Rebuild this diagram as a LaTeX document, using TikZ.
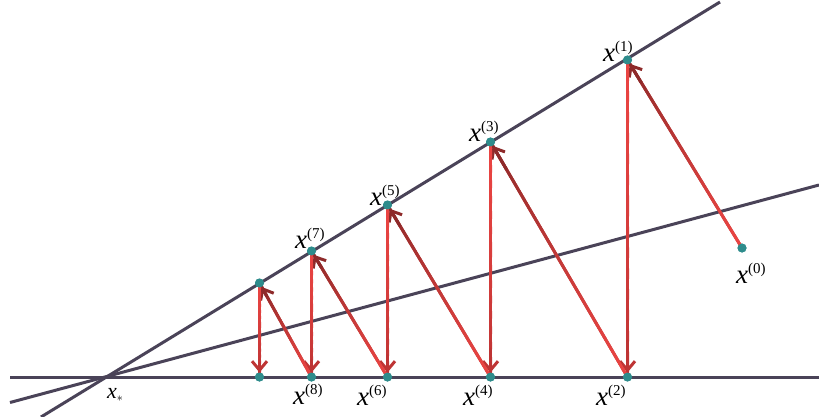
\documentclass[tikz,border=0pt]{standalone}
\usepackage{fontspec}
\setmainfont{Liberation Serif}
\usetikzlibrary{arrows.meta,calc}
\definecolor{linegray}{HTML}{4A4358}
\definecolor{dotteal}{HTML}{2E8C8C}
\definecolor{redA}{HTML}{EA4442}
\definecolor{redD}{HTML}{8E2A2A}
\definecolor{redM}{HTML}{BE3434}
\newcommand{\xlab}[1]{\fontsize{27}{29}\selectfont\itshape x\upshape\raisebox{10pt}{\fontsize{15}{17}\selectfont(#1)}}
\newcommand{\garrow}[3]{%
  \coordinate (gs) at (#1.center);
  \coordinate (ge) at ($(#2.center)!4.5pt!(#1.center)$);
  \draw[redline, color=#3!50!redA] (gs) -- (ge);
  \foreach \k in {0,...,29}{%
    \pgfmathsetmacro\pa{\k/30}%
    \pgfmathsetmacro\pb{(\k+1)/30}%
    \pgfmathsetmacro\pc{100*(\k/29)^1.3}%
    \draw[redline, color=#3!\pc!redA] ($(gs)!\pa!(ge)$) -- ($(gs)!\pb!(ge)$);
  }
  \draw[redline, color=#3, -{Straight Barb[length=9pt,width=15pt]}] ($(gs)!0.9!(ge)$) -- (ge);
}
\begin{document}
\begin{tikzpicture}[x=1pt,y=-1pt,
  gline/.style={line width=3pt, color=linegray},
  redline/.style={line width=3pt, line cap=round},
  dot/.style={circle, fill=dotteal, inner sep=0pt, minimum size=9pt},
  lab/.style={inner sep=0pt, anchor=base west}]
\useasboundingbox (0,0) rectangle (819,417);
% base lines
\coordinate (hl) at (10,377);
\coordinate (hr) at (819,377);
\coordinate (ul) at (41,417);
\coordinate (ur) at (720,2);
\coordinate (ml) at (10,402.5);
\coordinate (mr) at (819,185);
\draw[gline] (hl) -- (hr);
\draw[gline] (ul) -- (ur);
\draw[gline] (ml) -- (mr);
% points
\node[dot] (p0) at (742,248) {};
\node[dot] (p1) at (627.5,60) {};
\node[dot] (p2) at (627.5,377) {};
\node[dot] (p3) at (490.5,142) {};
\node[dot] (p4) at (490.5,377) {};
\node[dot] (p5) at (387.5,205) {};
\node[dot] (p6) at (387.5,377) {};
\node[dot] (p7) at (311.5,251) {};
\node[dot] (p8) at (311.5,377) {};
\node[dot] (p9) at (259.5,283) {};
\node[dot] (p10) at (259.5,377) {};
% arrows
\garrow{p0}{p1}{redD}
\garrow{p1}{p2}{redM}
\garrow{p2}{p3}{redD}
\garrow{p3}{p4}{redM}
\garrow{p4}{p5}{redD}
\garrow{p5}{p6}{redM}
\garrow{p6}{p7}{redD}
\garrow{p7}{p8}{redM}
\garrow{p8}{p9}{redD}
\garrow{p9}{p10}{redM}
% redraw dots on top
\foreach \p in {p0,p1,p2,p3,p4,p5,p6,p7,p8,p9,p10}{\fill[dotteal] (\p) circle (4.5pt);}
% labels
\node[lab] (l0) at (736,283) {\xlab{0}};
\node[lab] (l1) at (603,62) {\xlab{1}};
\node[lab] (l2) at (596,405) {\xlab{2}};
\node[lab] (l3) at (469,142) {\xlab{3}};
\node[lab] (l4) at (463,405) {\xlab{4}};
\node[lab] (l5) at (370,205) {\xlab{5}};
\node[lab] (l6) at (357,405) {\xlab{6}};
\node[lab] (l7) at (295,248) {\xlab{7}};
\node[lab] (l8) at (293,404) {\xlab{8}};
\node[lab] (ls) at (107,398) {\fontsize{22}{24}\selectfont\itshape x\upshape\raisebox{-3pt}{\fontsize{13}{14}\selectfont$*$}};
\end{tikzpicture}
\end{document}
